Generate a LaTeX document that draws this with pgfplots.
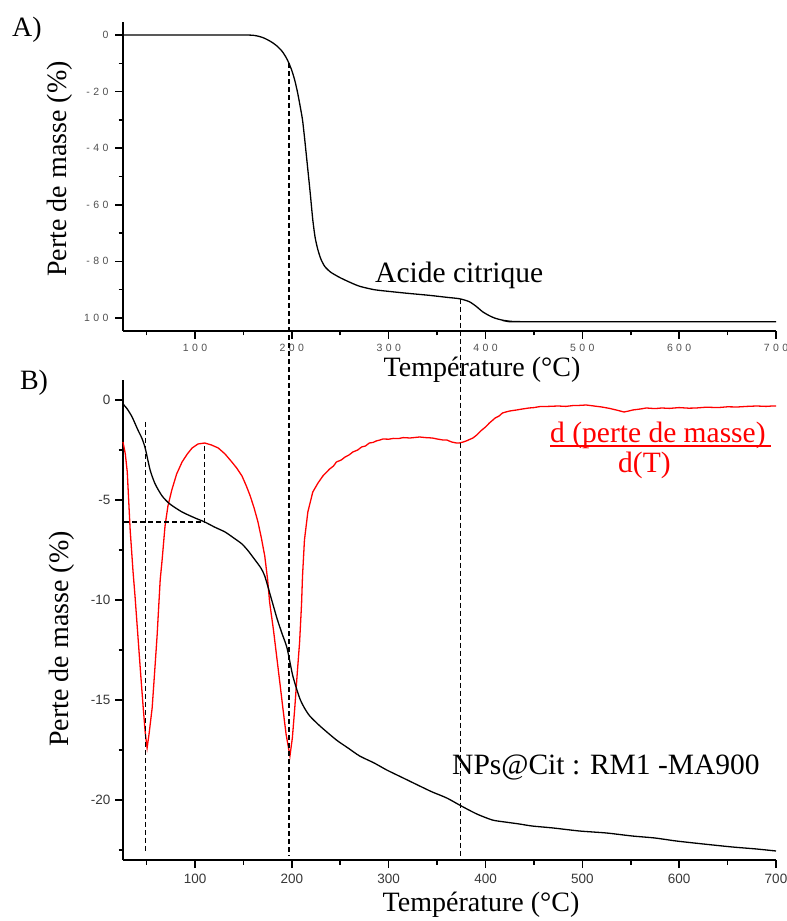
\documentclass[border=0pt]{standalone}
\usepackage{pgfplots}
\pgfplotsset{compat=1.18}
\usepackage{pgfplotstable}
\usepackage{fontspec}
\setmainfont{Liberation Serif}
\newfontfamily\tickfont{Liberation Sans}
\definecolor{tickgrayA}{HTML}{505050}
\definecolor{tickgrayB}{HTML}{383838}
\def\gs{\hspace{3.4pt}}
\newcommand\tA[1]{{\tickfont\fontsize{10.5}{12}\selectfont\color{tickgrayA}#1}}
\newcommand\tB[1]{{\tickfont\fontsize{13.5}{15}\selectfont\color{tickgrayB}#1}}

\pgfplotstableread{
T m
25.6 0
100 0
150 0
160 -0.1
165 -0.4
170 -0.9
175 -1.7
180 -2.7
185 -4.0
190 -5.8
194 -7.9
197 -10
200 -12.6
203 -16
206 -20.5
209 -26
211 -30
213 -36
216.5 -47.6
219 -56
221.6 -65.3
224 -71.5
226.8 -75.8
230 -79.2
234 -81.8
240 -83.8
249.5 -85.7
260 -87.4
270 -88.8
285 -90
300 -90.6
320 -91.3
342 -92
360 -92.7
373 -93.2
383 -94.2
390 -95.8
397 -97.8
404 -99.2
410 -100.1
418 -100.8
427 -101.2
440 -101.3
700 -101.3
}\dataA

\pgfplotstableread{
T m
25.6 -0.2
30 -0.45
35 -0.85
41 -1.5
45 -1.9
48.5 -2.4
53.6 -3.5
58.8 -4.2
66 -4.8
74 -5.2
86.6 -5.6
100 -5.9
110 -6.1
120 -6.35
131 -6.6
140 -6.9
148.5 -7.2
155 -7.55
162 -8.0
168 -8.4
172 -8.8
178 -9.8
184.5 -10.9
190 -11.7
195 -12.4
201 -13.8
208 -14.9
213 -15.4
218.5 -15.8
229 -16.3
246 -17.0
258 -17.4
270 -17.8
285 -18.15
298 -18.5
315 -18.9
332 -19.3
345 -19.6
360 -19.9
375 -20.3
391 -20.7
407 -21.0
420 -21.1
435 -21.2
448 -21.3
470 -21.4
497 -21.55
525 -21.65
551.5 -21.8
575 -21.9
597 -22.05
625 -22.2
655 -22.35
680 -22.45
700 -22.55
}\dataBmass

\pgfplotstableread{
T d
25.6 -2.1
28 -2.7
30 -3.6
33 -6.5
36 -8.6
38 -9.8
41 -11.8
44 -13.8
46.5 -15.4
48.5 -16.6
50.5 -17.4
52.5 -16.7
55.7 -15.4
58 -13.8
60.8 -11.8
64 -9.0
66 -8.0
69 -6.3
72 -5.3
76 -4.5
81 -3.7
86.6 -3.1
92 -2.7
97 -2.4
103 -2.2
110 -2.15
117 -2.25
124 -2.4
131 -2.7
138 -3.1
143 -3.4
148.5 -3.8
153 -4.3
157 -4.8
161 -5.4
165 -6.1
168.5 -6.9
172 -7.8
175 -9.0
177 -10.1
181 -11.5
184.5 -12.9
188 -14.3
190.7 -15.4
194 -16.7
198 -17.8
200.5 -16.9
203 -15.4
205.5 -13.7
208 -12.1
210 -10.2
211 -8.8
213 -7.0
216.5 -5.6
221.6 -4.6
227 -4.15
232 -3.8
236 -3.6
239 -3.45
243 -3.3
246 -3.1
251 -3.0
255 -2.85
259 -2.75
263 -2.6
268 -2.5
272 -2.35
276 -2.3
280 -2.15
284 -2.12
287 -2.05
291 -2.0
294 -1.95
300 -1.96
305 -1.92
310 -1.93
315 -1.88
322 -1.9
332 -1.85
338 -1.88
345 -1.9
350 -1.95
356 -2.0
360 -2.0
365 -2.1
370 -2.15
373 -2.15
377 -2.1
380 -2.05
387 -1.9
391 -1.75
395 -1.55
400 -1.35
404 -1.15
410 -0.9
414 -0.8
417.5 -0.65
421 -0.6
425 -0.55
432 -0.5
438 -0.45
445 -0.4
450 -0.38
456 -0.33
465 -0.32
475 -0.3
483 -0.32
490 -0.28
497 -0.27
504 -0.25
512 -0.3
520 -0.35
528 -0.42
535 -0.5
543 -0.6
548 -0.55
552 -0.5
560 -0.45
566 -0.4
575 -0.43
582 -0.4
590 -0.42
600 -0.38
610 -0.41
617.5 -0.4
628 -0.36
640 -0.38
650 -0.34
660 -0.35
670 -0.32
680 -0.3
690 -0.32
696 -0.3
700 -0.3
}\dataBderiv

\pgfplotsset{
  commonax/.style={
    scale only axis,
    anchor=south west,
    xmin=25.6, xmax=700,
    axis x line*=bottom, axis y line*=left,
    axis line style={line width=2.3pt, -},
    tick align=outside,
    tick style={line width=1.6pt, black},
    major tick length=8pt,
    minor tick length=4.5pt,
    xtick={100,200,300,400,500,600,700},
    minor xtick={50,150,250,350,450,550,650},
    clip=false,
  }
}
\tikzset{dsh/.style={black, line width=1.3pt, dash pattern=on 5pt off 3pt}}

\begin{document}
\begin{tikzpicture}
\path[use as bounding box] (0pt,0pt) rectangle (787pt,921pt);

% ---------------- Panel A ----------------
\begin{axis}[commonax,
  at={(123pt,590pt)}, width=653pt, height=309pt,
  ymin=-104.6, ymax=4.6,
  ytick={-100,-80,-60,-40,-20,0},
  minor ytick={-90,-70,-50,-30,-10},
  xticklabels={\tA{1\gs0\gs0},\tA{2\gs0\gs0},\tA{3\gs0\gs0},\tA{4\gs0\gs0},\tA{5\gs0\gs0},\tA{6\gs0\gs0},\tA{7\gs0\gs0}},
  yticklabels={\tA{1\gs0\gs0},\tA{-\gs8\gs0},\tA{-\gs6\gs0},\tA{-\gs4\gs0},\tA{-\gs2\gs0},\tA{0}},
  xticklabel style={yshift=-2pt},
  yticklabel style={xshift=-3pt},
]
\addplot[black, line width=1.3pt, smooth, tension=0.4] table[x=T,y=m]{\dataA};
\coordinate (d1top) at (axis cs:197,-10);
\coordinate (d2top) at (axis cs:374,-93.2);
\end{axis}

% ---------------- Panel B ----------------
\begin{axis}[commonax,
  at={(123pt,61pt)}, width=653pt, height=480pt,
  ymin=-23.0, ymax=1.0,
  ytick={-20,-15,-10,-5,0},
  minor ytick={-22.5,-17.5,-12.5,-7.5,-2.5},
  xticklabels={\tB{100},\tB{200},\tB{300},\tB{400},\tB{500},\tB{600},\tB{700}},
  yticklabels={\tB{-20},\tB{-15},\tB{-10},\tB{-5},\tB{0}},
  xticklabel style={yshift=-3pt},
  yticklabel style={xshift=-1pt},
]
\addplot[red, line width=1.3pt] table[x=T,y=d]{\dataBderiv};
\addplot[black, line width=1.3pt, smooth, tension=0.4] table[x=T,y=m]{\dataBmass};
\coordinate (d1bot) at (axis cs:197,-22.8);
\coordinate (d2bot) at (axis cs:374,-22.9);
\draw[dsh] (axis cs:48.5,-1.1) -- (axis cs:48.5,-22.6);
\draw[dsh] (axis cs:27,-6.1) -- (axis cs:110,-6.1);
\draw[dsh] (axis cs:110,-2.3) -- (axis cs:110,-6.1);
\end{axis}

\draw[dsh] (d1top) -- (d1bot);
\draw[dsh] (d2top) -- (d2bot);

% ---------------- Texts ----------------
\node[font=\fontsize{28}{28}\selectfont] at (27pt,891pt) {A)};
\node[font=\fontsize{28}{28}\selectfont] at (34pt,538pt) {B)};
\node[font=\fontsize{28}{28}\selectfont, rotate=90] at (60pt,752pt) {Perte de masse (\%)};
\node[font=\fontsize{28}{28}\selectfont, rotate=90] at (62pt,282pt) {Perte de masse (\%)};
\node[font=\fontsize{28}{28}\selectfont] at (482pt,551pt) {Température (°C)};
\node[font=\fontsize{28}{28}\selectfont] at (481pt,16pt) {Température (°C)};
\node[font=\fontsize{29.5}{29.5}\selectfont, anchor=base west, inner sep=0pt] at (375pt,638pt) {Acide citrique};
\node[font=\fontsize{29.5}{29.5}\selectfont, anchor=base west, inner sep=0pt] at (452pt,146pt) {NPs@Cit : RM1 -MA900};
\node[font=\fontsize{29.5}{29.5}\selectfont, anchor=base west, inner sep=0pt, text=red] at (550pt,478pt) {d (perte de masse)};
\draw[red, line width=1.1pt] (550pt,475pt) -- (771pt,475pt);
\node[font=\fontsize{29.5}{29.5}\selectfont, anchor=base west, inner sep=0pt, text=red] at (618pt,448pt) {d(T)};
\end{tikzpicture}
\end{document}
